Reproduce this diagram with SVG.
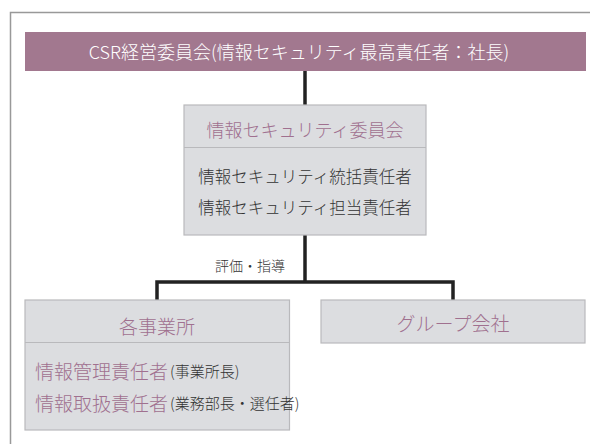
<svg xmlns="http://www.w3.org/2000/svg" width="590" height="444" viewBox="0 0 590 444">
<style>
text{font-family:"Noto Sans CJK JP","Noto Sans",sans-serif;dominant-baseline:central;font-weight:300}
.box{fill:#dcdde0;stroke:#b9b9bc;stroke-width:1.2}
.div{stroke:#b9b9bc;stroke-width:1.2}
.pur{fill:#a0708f}
.dk{fill:#333}
.conn{fill:none;stroke:#222;stroke-width:3.5}
</style>
<rect width="590" height="444" fill="#fff"/>
<path d="M10.5,444 V12.5 H590" fill="none" stroke="#999" stroke-width="1.5"/>
<g id="connectors">
<line class="conn" x1="305" y1="71" x2="305" y2="105"/>
<line class="conn" x1="305" y1="235" x2="305" y2="282"/>
<path class="conn" d="M157,300 V282 H453 V300"/>
<text x="250" y="265" font-size="14" text-anchor="middle" class="dk">評価・指導</text>
</g>
<g id="csr">
<rect x="25" y="32" width="561" height="39" fill="#a2788f"/>
<text x="299" y="51" font-size="18" text-anchor="middle" fill="#fff">CSR経営委員会(情報セキュリティ最高責任者：社長)</text>
</g>
<g id="committee">
<rect class="box" x="184" y="105" width="242" height="130"/>
<line class="div" x1="184" y1="147.5" x2="426" y2="147.5"/>
<text x="305" y="129" font-size="18" text-anchor="middle" class="pur">情報セキュリティ委員会</text>
<text x="305" y="176" font-size="16.5" text-anchor="middle" class="dk">情報セキュリティ統括責任者</text>
<text x="305" y="207" font-size="16.5" text-anchor="middle" class="dk">情報セキュリティ担当責任者</text>
</g>
<g id="offices">
<rect class="box" x="25" y="300" width="264.5" height="130"/>
<line class="div" x1="25" y1="342.5" x2="289.5" y2="342.5"/>
<text x="157" y="325" font-size="19" text-anchor="middle" class="pur">各事業所</text>
<text x="35" y="370" font-size="19"><tspan class="pur">情報管理責任者</tspan><tspan class="dk" font-size="15" dx="2">(事業所長)</tspan></text>
<text x="35" y="402" font-size="19"><tspan class="pur">情報取扱責任者</tspan><tspan class="dk" font-size="15" dx="2">(業務部長・選任者)</tspan></text>
</g>
<g id="group">
<rect class="box" x="321" y="300" width="264" height="43"/>
<text x="453" y="322" font-size="19" text-anchor="middle" class="pur">グループ会社</text>
</g>
</svg>
